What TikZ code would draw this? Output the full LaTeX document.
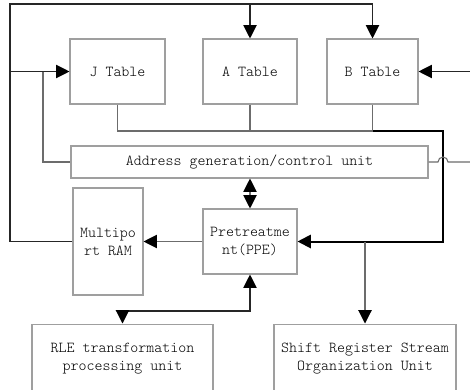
\documentclass[tikz,border=0pt]{standalone}
\usepackage{fontspec}
\setmonofont{Latin Modern Mono Light}
\usetikzlibrary{arrows.meta}

\begin{document}
\begin{tikzpicture}[
  x=0.75pt, y=-0.75pt,
  font=\ttfamily\fontsize{11.4}{13.5}\selectfont,
  unitbox/.style={rectangle, draw=gray!75, line width=0.8pt, align=center, inner sep=0pt},
  wire/.style={line width=0.8pt, black!85},
  graywire/.style={line width=0.8pt, gray!85!black},
  buswire/.style={line width=1.5pt, black},
  onearrow/.style={-{Triangle[length=10pt,width=10pt,color=black]}},
  twoarrow/.style={{Triangle[length=10pt,width=10pt,color=black]}-{Triangle[length=10pt,width=10pt,color=black]}}
]
\useasboundingbox (0,0) rectangle (470,389);
\clip (0,0) rectangle (470,389);

% tables
\node[unitbox, minimum width=71.25pt, minimum height=48.75pt] (jtab) at (117.5,71.5) {J Table};
\node[unitbox, minimum width=70.5pt, minimum height=48.75pt] (atab) at (250,71.5) {A Table};
\node[unitbox, minimum width=68.25pt, minimum height=48.75pt] (btab) at (372.5,71.5) {B Table};
\node[unitbox, minimum width=267.75pt, minimum height=24pt] (addr) at (249.5,162) {Address generation/control unit};
\node[unitbox, minimum width=52.5pt, minimum height=80.25pt] (ram) at (108,241.5) {Multipo\\rt RAM};
\node[unitbox, minimum width=70.5pt, minimum height=48.75pt] (ppe) at (250,241.5) {Pretreatme\\nt(PPE)};
\node[unitbox, minimum width=135.75pt, minimum height=52pt] (rle) at (122.5,358.7) {RLE transformation\\processing unit};
\node[unitbox, minimum width=136.5pt, minimum height=52pt] (srs) at (365,358.7) {Shift Register Stream\\Organization Unit};

% junctions
\coordinate (topl) at (10,4);
\coordinate (jbr) at (43,71.5);
\coordinate (busr) at (443,131);
\coordinate (bin) at (470,71.5);
\coordinate (hopl) at (438,162);
\coordinate (aout) at (470,162);
\coordinate (rlejn) at (250,311);

% outer loop
\draw[wire, onearrow] (ram.west) -| (topl) -| (btab.north);
\draw[wire, onearrow] (atab.north |- topl) -- (atab.north);
\draw[wire, onearrow] (topl |- jtab.west) -- (jtab.west);
\draw[graywire] (jbr) |- (addr.west);
\draw[wire, onearrow] (bin) -- (btab.east);

% table bus
\draw[graywire] (jtab.south) |- (btab.south |- busr);
\draw[graywire] (atab.south) -- (atab.south |- busr);
\draw[graywire] (btab.south) -- (btab.south |- busr);
\draw[buswire, onearrow] (btab.south |- busr) -- (busr) |- (ppe.east);
\draw[graywire, onearrow] (srs.north |- ppe.east) -- (srs.north);

% address line with hop
\draw[graywire] (addr.east) -- (hopl) arc (180:360:5) -- (aout);

\draw[graywire, twoarrow] (ppe.north |- addr.south) -- (ppe.north);
\draw[graywire, onearrow] (ppe.west) -- (ram.east);
\draw[wire, twoarrow] (rle.north) |- (rlejn) -- (ppe.south);
\end{tikzpicture}
\end{document}
